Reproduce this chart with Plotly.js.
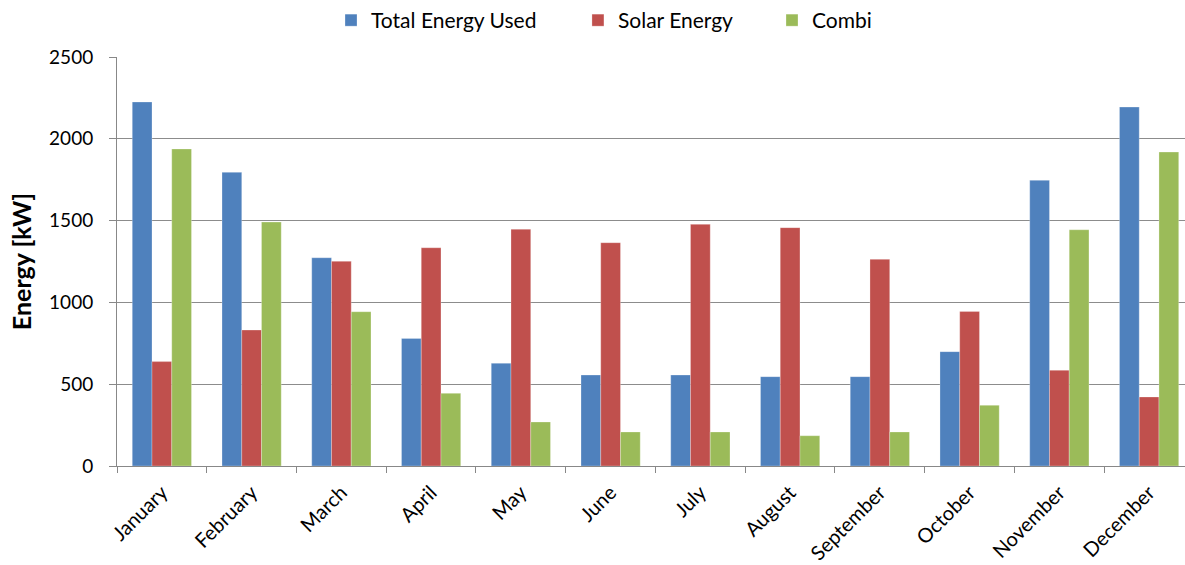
<!DOCTYPE html>
<html>
<head>
<meta charset="utf-8">
<script src="https://cdn.plot.ly/plotly-3.0.1.min.js"></script>
<style>
  html, body { margin: 0; padding: 0; background: #ffffff; }
  #chart { width: 1185px; height: 565px; }
</style>
</head>
<body>
<div id="chart"></div>
<script>
// Monthly energy figures in kW
const months = ["January", "February", "March", "April", "May", "June",
                "July", "August", "September", "October", "November", "December"];
const totalEnergyUsed = [2225, 1795, 1273, 780, 628, 556, 556, 546, 546, 699, 1746, 2194];
const solarEnergy     = [638, 831, 1251, 1334, 1447, 1365, 1477, 1457, 1263, 945, 585, 422];
const combi           = [1938, 1491, 943, 444, 269, 208, 208, 185, 208, 371, 1444, 1919];

const seriesNames  = ["Total Energy Used", "Solar Energy", "Combi"];
const seriesColors = ["#4F81BD", "#C0504D", "#9BBB59"];
const seriesValues = [totalEnergyUsed, solarEnergy, combi];

const FONT = "Lato, 'Noto Sans', sans-serif";

// one legend box per series so each entry can sit at its own spot along the top
const legendIds  = ["legend", "legend2", "legend3"];
const legendXPos = [0.2004, 0.4316, 0.6133];

const traces = seriesValues.map((vals, i) => ({
  type: "bar",
  name: seriesNames[i],
  x: months,
  y: vals,
  legend: legendIds[i],
  marker: {
    color: seriesColors[i],
    line: { color: "rgba(255,255,255,0.45)", width: 0.6 }
  },
  hoverinfo: "x+y+name"
}));

function legendBox(x) {
  return {
    orientation: "h",
    x: x,
    xanchor: "left",
    y: 1.09,
    yanchor: "middle",
    font: { family: FONT, size: 21, color: "#000000" },
    itemwidth: 30,
    bgcolor: "rgba(0,0,0,0)"
  };
}

const layout = {
  width: 1185,
  height: 565,
  margin: { l: 117, r: 0, t: 57, b: 99 },
  paper_bgcolor: "#ffffff",
  plot_bgcolor: "#ffffff",
  barmode: "group",
  bargap: 0.34,
  bargroupgap: 0,
  font: { family: FONT, color: "#000000", size: 16 },
  showlegend: true,
  legend: legendBox(legendXPos[0]),
  legend2: legendBox(legendXPos[1]),
  legend3: legendBox(legendXPos[2]),
  xaxis: {
    type: "category",
    range: [-0.5, 11.4],
    tickangle: -45,
    tickson: "boundaries",
    ticks: "outside",
    ticklen: 6,
    tickcolor: "#888888",
    tickwidth: 1,
    ticklabelstandoff: 6,
    showline: true,
    linecolor: "#888888",
    linewidth: 1,
    showgrid: false,
    tickfont: { family: FONT, size: 20, color: "#000000" },
    fixedrange: true
  },
  yaxis: {
    range: [0, 2500],
    dtick: 500,
    tick0: 0,
    ticks: "outside",
    ticklen: 7,
    tickcolor: "#888888",
    tickwidth: 1,
    ticklabelstandoff: 12,
    showline: true,
    linecolor: "#888888",
    linewidth: 1,
    showgrid: true,
    gridcolor: "#8c8c8c",
    gridwidth: 1,
    zeroline: false,
    tickfont: { family: FONT, size: 19, color: "#000000" },
    title: {
      text: "<b>Energy [kW]</b>",
      font: { family: FONT, size: 25, color: "#000000" },
      standoff: 10
    },
    fixedrange: true
  }
};

Plotly.newPlot("chart", traces, layout, { displayModeBar: false, staticPlot: true });
</script>
</body>
</html>
